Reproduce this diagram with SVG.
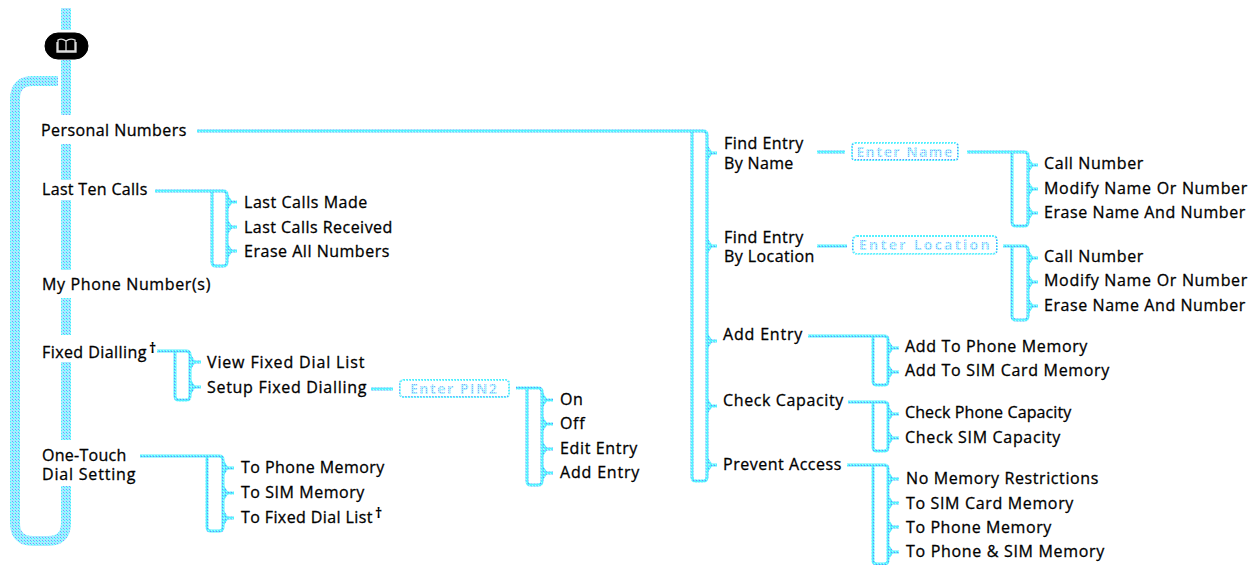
<svg xmlns="http://www.w3.org/2000/svg" width="1254" height="565" viewBox="0 0 1254 565">
<defs>
<pattern id="d" width="3" height="3" patternUnits="userSpaceOnUse"><rect width="3" height="3" fill="#9df6ff"/><rect width="1" height="1" fill="#7f90ff"/><rect x="1" y="1" width="1" height="1" fill="#40ecff"/><rect x="2" y="2" width="1" height="1" fill="#c0d4ff"/></pattern>
<pattern id="t" width="3" height="3" patternUnits="userSpaceOnUse"><rect width="3" height="3" fill="#55f0ff"/><rect width="1" height="1" fill="#6f85ff"/><rect x="1" y="2" width="1" height="1" fill="#a8f8ff"/></pattern>
<pattern id="f" width="2" height="2" patternUnits="userSpaceOnUse"><rect width="2" height="2" fill="#a8f6ff"/><rect width="1" height="1" fill="#8aa0ff"/></pattern>
</defs>
<style>
text{font-family:"Open Sans","Noto Sans","Liberation Sans",sans-serif;font-size:16px;fill:#000;stroke:#000;stroke-width:.3px;letter-spacing:.65px}
.sup{font-size:14px;font-weight:700;stroke:none}
.th{fill:none;stroke:url(#d);stroke-width:10}
.br{fill:none;stroke:url(#t);stroke-width:3}
.box{fill:#fff;stroke:url(#t);stroke-width:2;stroke-dasharray:2 1}
.bt{fill:url(#f);stroke:none;font-size:14px;font-weight:700;letter-spacing:1.4px}
.pill{fill:#000;stroke:#000}
.ic{fill:none;stroke:#ddd;stroke-width:1.3}
</style>
<g id="connectors">
<path class="th" d="M66 8V30M66 60V115M66 144V180M66 200V270M66 298V335M66 362V440"/>
<path class="th" d="M58 81H33Q15 81 15 99V523Q15 541 33 541H48Q66 541 66 523V486"/>
<g class="br">
<path d="M155 191H223Q227 191 227 195V262Q227 266 223 266H216Q212 266 212 262V191"/>
<path d="M227 196L231 202H237M227 208L231 202M227 221L231 227H237M227 233L231 227M227 245L231 251H237M227 257L231 251"/>
<path d="M157 351H186Q190 351 190 355V396Q190 400 186 400H179Q175 400 175 396V351"/>
<path d="M190 356L194 362H201M190 368L194 362M190 381L194 387H201M190 393L194 387"/>
<path d="M371 389H393"/>
<path d="M516 388H538Q542 388 542 392V481Q542 485 538 485H531Q527 485 527 481V388"/>
<path d="M542 394L546 400H553M542 406L546 400M542 418L546 424H553M542 430L546 424M542 443L546 449H553M542 455L546 449M542 467L546 473H553M542 479L546 473"/>
<path d="M140 456H219Q223 456 223 460V527Q223 531 219 531H211Q207 531 207 527V456"/>
<path d="M223 462L227 468H234M223 474L227 468M223 487L227 493H234M223 499L227 493M223 512L227 518H234M223 524L227 518"/>
<path d="M197 131H703Q707 131 707 135V477Q707 481 703 481H696Q692 481 692 477V131"/>
<path d="M707 147L711 153H717M707 159L711 153M707 240L711 246H717M707 252L711 246M707 335L711 341H717M707 347L711 341M707 400L711 406H717M707 412L711 406M707 459L711 465H717M707 471L711 465"/>
<path d="M817 152H845M967 152H1024Q1028 152 1028 156V222Q1028 226 1024 226H1016Q1012 226 1012 222V152"/>
<path d="M1028 159L1032 165H1038M1028 171L1032 165M1028 183L1032 189H1038M1028 195L1032 189M1028 207L1032 213H1038M1028 219L1032 213"/>
<path d="M817 246H847M1003 246H1024Q1028 246 1028 250V316Q1028 320 1024 320H1016Q1012 320 1012 316V246"/>
<path d="M1028 252L1032 258H1038M1028 264L1032 258M1028 276L1032 282H1038M1028 288L1032 282M1028 300L1032 306H1038M1028 312L1032 306"/>
<path d="M808 336H884Q888 336 888 340V381Q888 385 884 385H877Q873 385 873 381V336"/>
<path d="M888 342L892 348H899M888 354L892 348M888 366L892 372H899M888 378L892 372"/>
<path d="M848 402H884Q888 402 888 406V447Q888 451 884 451H877Q873 451 873 447V402"/>
<path d="M888 408L892 414H899M888 420L892 414M888 432L892 438H899M888 444L892 438"/>
<path d="M847 465H884Q888 465 888 469V560Q888 564 884 564H877Q873 564 873 560V465"/>
<path d="M888 473L892 479H899M888 485L892 479M888 497L892 503H899M888 509L892 503M888 521L892 527H899M888 533L892 527M888 546L892 552H899M888 558L892 552"/>
</g>
</g>
<g id="phonebook-icon"><rect class="pill" x="45" y="33" width="43" height="26" rx="13"/><path class="ic" d="M58 40Q62 38 66 41Q70 38 75 40V51H58ZM66 41V51M57 42V52H76V42"/></g>
<g id="personal-numbers"><text x="41" y="136" textLength="146">Personal Numbers</text></g>
<g id="last-ten-calls"><text x="42" y="195" textLength="106">Last Ten Calls</text></g>
<g id="last-calls-made"><text x="244" y="208" textLength="124">Last Calls Made</text></g>
<g id="last-calls-received"><text x="244" y="233" textLength="149">Last Calls Received</text></g>
<g id="erase-all"><text x="244" y="257" textLength="146">Erase All Numbers</text></g>
<g id="my-phone"><text x="42" y="290" textLength="169">My Phone Number(s)</text></g>
<g id="fixed-dialling"><text x="42" y="358" textLength="105">Fixed Dialling</text><text class="sup" x="149" y="353">†</text></g>
<g id="view-fixed"><text x="207" y="368" textLength="158">View Fixed Dial List</text></g>
<g id="setup-fixed"><text x="207" y="393" textLength="160">Setup Fixed Dialling</text></g>
<g id="enter-pin2"><rect class="box" x="400" y="380" width="109" height="17" rx="3"/><text class="bt" x="454" y="394" text-anchor="middle">Enter PIN2</text></g>
<g id="on"><text x="560" y="405">On</text></g>
<g id="off"><text x="560" y="429">Off</text></g>
<g id="edit-entry"><text x="560" y="454" textLength="78">Edit Entry</text></g>
<g id="add-entry-2"><text x="560" y="478" textLength="80">Add Entry</text></g>
<g id="one-touch"><text x="42" y="461" textLength="85">One-Touch</text><text x="42" y="480" textLength="94">Dial Setting</text></g>
<g id="to-phone-1"><text x="241" y="473" textLength="144">To Phone Memory</text></g>
<g id="to-sim-1"><text x="241" y="498" textLength="124">To SIM Memory</text></g>
<g id="to-fixed"><text x="241" y="523" textLength="132">To Fixed Dial List</text><text class="sup" x="375" y="518">†</text></g>
<g id="find-name"><text x="724" y="149" textLength="80">Find Entry</text><text x="724" y="169" textLength="70">By Name</text></g>
<g id="enter-name"><rect class="box" x="852" y="143" width="106" height="17" rx="3"/><text class="bt" x="905" y="157" text-anchor="middle">Enter Name</text></g>
<g id="call-1"><text x="1044" y="169" textLength="100">Call Number</text></g>
<g id="modify-1"><text x="1044" y="194" textLength="204">Modify Name Or Number</text></g>
<g id="erase-1"><text x="1044" y="218" textLength="202">Erase Name And Number</text></g>
<g id="find-location"><text x="724" y="243" textLength="80">Find Entry</text><text x="724" y="262" textLength="91">By Location</text></g>
<g id="enter-location"><rect class="box" x="853" y="236" width="144" height="18" rx="4"/><text class="bt" x="925" y="250" text-anchor="middle" textLength="132">Enter Location</text></g>
<g id="call-2"><text x="1044" y="262" textLength="100">Call Number</text></g>
<g id="modify-2"><text x="1044" y="286" textLength="204">Modify Name Or Number</text></g>
<g id="erase-2"><text x="1044" y="311" textLength="202">Erase Name And Number</text></g>
<g id="add-entry"><text x="723" y="340" textLength="80">Add Entry</text></g>
<g id="add-phone"><text x="905" y="352" textLength="183">Add To Phone Memory</text></g>
<g id="add-sim"><text x="905" y="376" textLength="205">Add To SIM Card Memory</text></g>
<g id="check-capacity"><text x="723" y="406" textLength="121">Check Capacity</text></g>
<g id="check-phone"><text x="905" y="418" textLength="167">Check Phone Capacity</text></g>
<g id="check-sim"><text x="905" y="443" textLength="156">Check SIM Capacity</text></g>
<g id="prevent"><text x="723" y="470" textLength="119">Prevent Access</text></g>
<g id="no-memory"><text x="906" y="484" textLength="193">No Memory Restrictions</text></g>
<g id="to-sim-card"><text x="906" y="509" textLength="168">To SIM Card Memory</text></g>
<g id="to-phone-2"><text x="906" y="533" textLength="146">To Phone Memory</text></g>
<g id="to-phone-sim"><text x="906" y="557" textLength="199">To Phone &amp; SIM Memory</text></g>
</svg>
